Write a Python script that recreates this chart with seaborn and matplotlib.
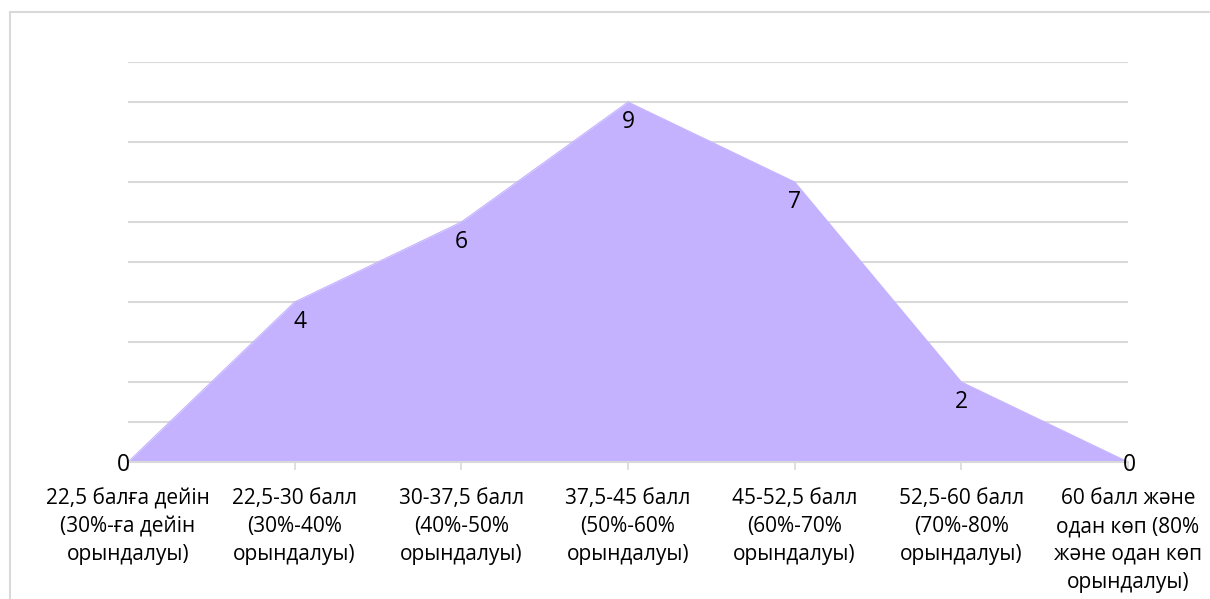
import matplotlib
matplotlib.use("Agg")
import matplotlib.pyplot as plt
import seaborn as sns
from matplotlib.lines import Line2D

# categories and counts
categories = [
    "22,5 балға дейін\n(30%-ға дейін\nорындалуы)",
    "22,5-30 балл\n(30%-40%\nорындалуы)",
    "30-37,5 балл\n(40%-50%\nорындалуы)",
    "37,5-45 балл\n(50%-60%\nорындалуы)",
    "45-52,5 балл\n(60%-70%\nорындалуы)",
    "52,5-60 балл\n(70%-80%\nорындалуы)",
    "60 балл және\nодан көп (80%\nжәне одан көп\nорындалуы)",
]
counts = [0, 4, 6, 9, 7, 2, 0]

sns.set_style("white")
plt.rcParams['font.family'] = ['Open Sans', 'DejaVu Sans']
plt.rcParams['text.color'] = 'black'
plt.rcParams['xtick.color'] = 'black'

fill_color = '#c4b2ff'
grid_color = '#d9d9d9'

fig = plt.figure(figsize=(12.1, 5.99), dpi=100)
ax = fig.add_axes([128 / 1210, (599 - 462) / 599, 1000 / 1210, 400 / 599])

xs = list(range(len(counts)))
ax.fill_between(xs, counts, 0, color=fill_color, linewidth=0)
sns.lineplot(x=xs, y=counts, ax=ax, color=fill_color, linewidth=0.8)

ax.set_xlim(0, 6)
ax.set_ylim(0, 10)
ax.set_yticks(range(0, 11))
ax.yaxis.grid(True, color=grid_color, linewidth=1.5)
ax.set_axisbelow(True)
ax.tick_params(axis='y', left=False, labelleft=False)

ax.set_xticks(xs)
ax.set_xticklabels(categories, fontsize=15, linespacing=1.42, color='black')
ax.tick_params(axis='x', bottom=True, length=6, width=1.2, color=grid_color, pad=13)

for s in ['top', 'right', 'left']:
    ax.spines[s].set_visible(False)
ax.spines['bottom'].set_color(grid_color)
ax.spines['bottom'].set_linewidth(1.5)

# data labels
for x, v in zip(xs, counts):
    if v == 0:
        dx = -3 if x == 0 else 1
        ax.annotate(str(v), (x, v), xytext=(dx, -2), textcoords='offset points',
                    ha='center', va='center', fontsize=16.5, color='black')
    else:
        ax.annotate(str(v), (x, v), xytext=(4 if v == 4 else 0, -14.5),
                    textcoords='offset points',
                    ha='center', va='center', fontsize=16.5, color='black')

# chart frame (top and left only visible)
fig.add_artist(Line2D([10 / 1210, 1], [1 - 12 / 599, 1 - 12 / 599], color=grid_color,
                      linewidth=1.5, transform=fig.transFigure))
fig.add_artist(Line2D([10 / 1210, 10 / 1210], [0, 1 - 12 / 599], color=grid_color,
                      linewidth=1.5, transform=fig.transFigure))

fig.savefig('out.png', dpi=100)
